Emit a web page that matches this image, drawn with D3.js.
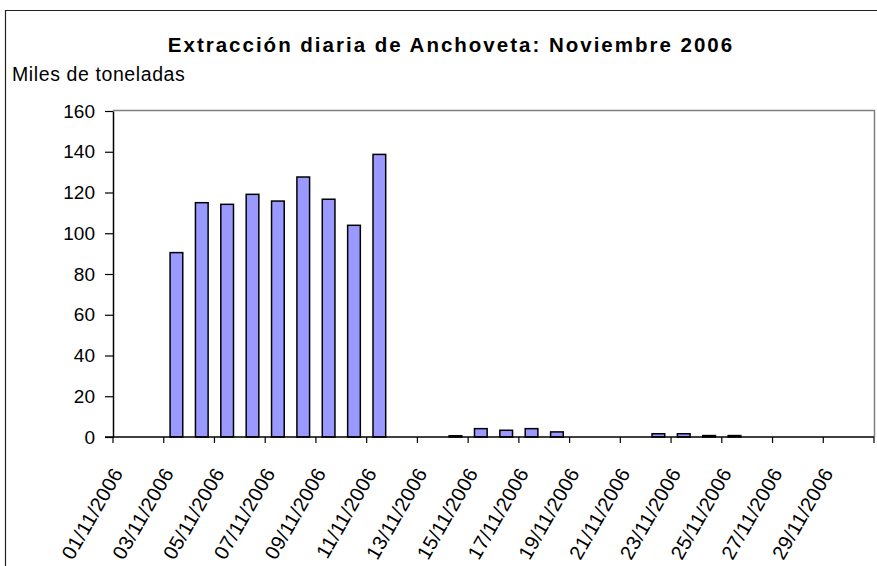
<!DOCTYPE html>
<html><head><meta charset="utf-8">
<script src="https://cdn.jsdelivr.net/npm/d3@7"></script>
<style>
body{margin:0;background:#fff;}
text{font-family:"Liberation Sans",Arial,sans-serif;fill:#000;}
</style></head>
<body><svg id="c" width="877" height="566"></svg>
<script>
const days = ["01/11/2006","02/11/2006","03/11/2006","04/11/2006","05/11/2006","06/11/2006","07/11/2006","08/11/2006","09/11/2006","10/11/2006",
"11/11/2006","12/11/2006","13/11/2006","14/11/2006","15/11/2006","16/11/2006","17/11/2006","18/11/2006","19/11/2006","20/11/2006",
"21/11/2006","22/11/2006","23/11/2006","24/11/2006","25/11/2006","26/11/2006","27/11/2006","28/11/2006","29/11/2006","30/11/2006"];
const values = [0,0,90.5,115,114.2,119.1,115.8,127.6,116.7,103.9,
138.7,0,0,0.6,4.1,3.3,4.1,2.5,0,0,
0,1.6,1.6,0.7,0.7,0,0,0,0,0];
const yTicks = [0,20,40,60,80,100,120,140,160];
const title = "Extracción diaria de Anchoveta: Noviembre 2006";
const yTitle = "Miles de toneladas";

const svg = d3.select("#c");
const L=113, R=874, T=111, B=437;
const x = d3.scaleBand().domain(days).range([L,R]).paddingInner(0.5).paddingOuter(0.25);
const y = d3.scaleLinear().domain([0,160]).range([B,T]);

// outer border
svg.append("path").attr("d","M5.5,566 L5.5,10.5 L877,10.5").attr("fill","none").attr("stroke","#222").attr("stroke-width",1.2);

// plot area border (top/right)
svg.append("path").attr("d",`M${L},${T-0.5} L${R+0.5},${T-0.5} L${R+0.5},${B}`).attr("fill","none").attr("stroke","#808080").attr("stroke-width",1.5);

svg.append("text").attr("x",451).attr("y",52).attr("text-anchor","middle")
  .attr("font-size",20.5).attr("letter-spacing",2).attr("font-weight","bold").text(title);
svg.append("text").attr("x",12).attr("y",81).attr("font-size",19.5).attr("letter-spacing",0.6).text(yTitle);

// bars
svg.append("g").selectAll("rect").data(days.map((d,i)=>({d,v:values[i]})).filter(e=>e.v>0)).join("rect")
  .attr("x",e=>x(e.d)).attr("width",x.bandwidth())
  .attr("y",e=>y(e.v)).attr("height",e=>y(0)-y(e.v))
  .attr("fill","#9999FF").attr("stroke","#000").attr("stroke-width",1.5);

// y axis
const ya = svg.append("g").attr("transform",`translate(${L},0)`)
  .call(d3.axisLeft(y).tickValues(yTicks).tickSize(8).tickPadding(10).tickSizeOuter(0));
ya.select(".domain").attr("stroke","#000").attr("stroke-width",1.5);
ya.selectAll(".tick line").attr("stroke","#000").attr("stroke-width",1.2);
ya.selectAll("text").attr("font-size",19).attr("font-family","Liberation Sans, Arial, sans-serif");

// x axis line and ticks
const step = x.step();
svg.append("line").attr("x1",L-8).attr("x2",R).attr("y1",B).attr("y2",B).attr("stroke","#000").attr("stroke-width",1.5);
const tickPos = days.filter((d,i)=>i%2===0).map(d=>x(d)-x.paddingOuter()*step).concat([R]);
svg.append("g").selectAll("line").data(tickPos).join("line")
  .attr("x1",d=>d).attr("x2",d=>d).attr("y1",B).attr("y2",B+6).attr("stroke","#000").attr("stroke-width",1.2);

// x labels
svg.append("g").selectAll("text").data(days.filter((d,i)=>i%2===0)).join("text")
  .attr("transform",d=>`translate(${x(d)+x.bandwidth()/2-2},${B+36}) rotate(-60)`)
  .attr("text-anchor","end").attr("font-size",20).attr("letter-spacing",0.3).text(d=>d);
</script></body></html>
